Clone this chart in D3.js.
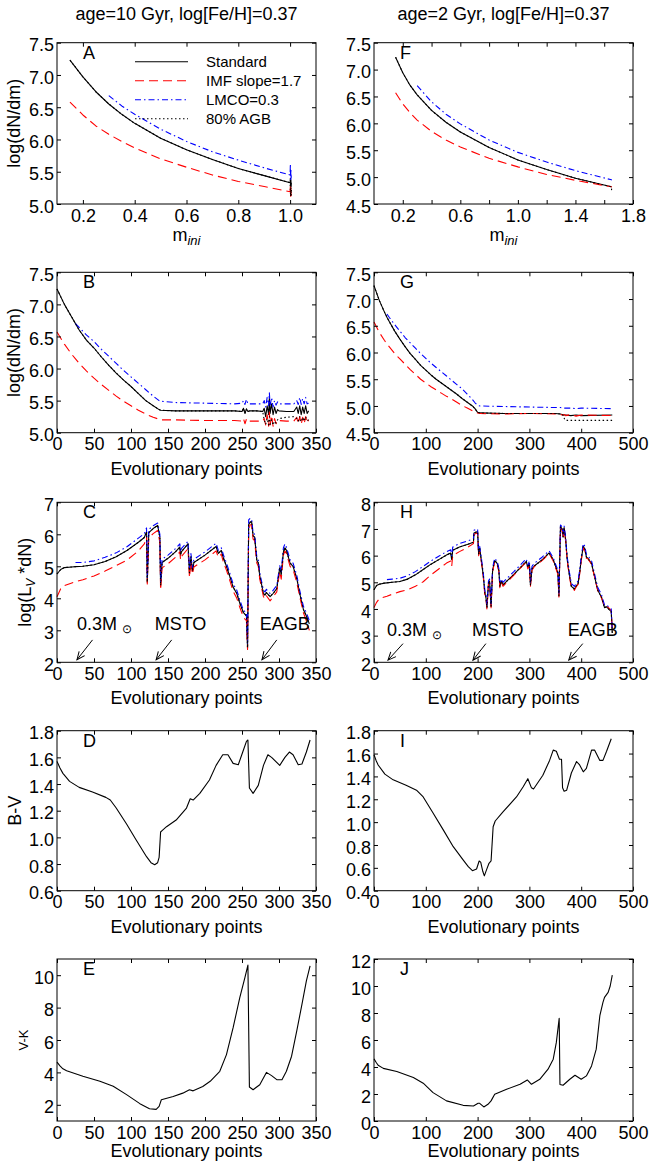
<!DOCTYPE html>
<html>
<head>
<meta charset="utf-8">
<script src="https://cdn.jsdelivr.net/npm/d3@7"></script>
<style>
  body { margin: 0; background: #fff; }
</style>
</head>
<body>
<div class="chart"></div>
<script>
var FONT = '"Liberation Sans", Arial, Helvetica, sans-serif';

// ---------- panel A / F : log(dN/dm) vs initial mass ----------
var aM    = [0.15, 0.2, 0.25, 0.3, 0.35, 0.4, 0.5, 0.6, 0.7, 0.8, 0.9, 1.0, 1.001, 1.002, 1.003, 1.004, 1.005];
var aStd  = [7.23, 6.97, 6.74, 6.55, 6.39, 6.25, 6.02, 5.84, 5.69, 5.55, 5.44, 5.33, 5.4, 5.26, 5.38, 5.27, 5.33];
var aImf  = [6.58, 6.38, 6.21, 6.08, 5.97, 5.87, 5.7, 5.57, 5.45, 5.35, 5.27, 5.19, 5.28, 5.12, 5.25, 5.13, 5.2];
var aLmco = [null, null, null, 6.68, 6.52, 6.39, 6.16, 5.97, 5.81, 5.68, 5.56, 5.45, 5.62, 5.38, 5.55, 5.4, 5.48];
var aAgb  = [7.23, 6.97, 6.74, 6.55, 6.39, 6.25, 6.02, 5.84, 5.69, 5.55, 5.44, 5.33, 5.2, 5.12, 5.25, 5.13, 5.22];

var fM    = [0.15, 0.2, 0.25, 0.3, 0.4, 0.5, 0.6, 0.8, 1.0, 1.2, 1.4, 1.65, 1.652];
var fStd  = [7.23, 6.94, 6.71, 6.53, 6.24, 6.02, 5.84, 5.55, 5.32, 5.14, 4.98, 4.82, 4.82];
var fImf  = [6.57, 6.36, 6.2, 6.06, 5.85, 5.69, 5.56, 5.35, 5.19, 5.05, 4.94, 4.82, 4.81];
var fLmco = [null, null, null, 6.7, 6.4, 6.17, 5.99, 5.69, 5.46, 5.28, 5.12, 4.95, 4.94];
var fAgb  = [7.23, 6.94, 6.71, 6.53, 6.24, 6.02, 5.84, 5.55, 5.32, 5.14, 4.98, 4.82, 4.72];

// ---------- panel B / G : log(dN/dm) vs evolutionary point ----------
var bX    = [0,10,20,25,30,40,50,60,70,80,90,100,110,120,130,138,140,160,200,240,250,252,254,256,258,260,270,278,280,282,284,286,287,288,290,292,294,296,298,300,310,320,324,326,328,330,332,334,336,338,340];
var bStd  = [7.24,7.0,6.8,6.7,6.6,6.44,6.32,6.18,6.05,5.93,5.82,5.72,5.61,5.5,5.42,5.36,5.35,5.34,5.34,5.34,5.33,5.38,5.3,5.37,5.33,5.34,5.34,5.33,5.38,5.25,5.42,5.28,5.55,5.3,5.45,5.28,5.4,5.3,5.36,5.34,5.33,5.33,5.4,5.3,5.42,5.28,5.4,5.3,5.42,5.3,5.34];
var bImf  = [6.57,6.38,6.22,6.15,6.08,5.96,5.85,5.75,5.66,5.57,5.49,5.42,5.35,5.29,5.24,5.21,5.2,5.2,5.19,5.19,5.18,5.22,5.14,5.21,5.17,5.18,5.18,5.18,5.22,5.12,5.28,5.1,5.32,5.12,5.27,5.1,5.22,5.14,5.2,5.19,5.18,5.18,5.24,5.14,5.25,5.13,5.24,5.14,5.25,5.15,5.2];
var bLmco = [null,null,null,6.7,6.64,6.52,6.42,6.3,6.19,6.08,5.97,5.87,5.77,5.67,5.57,5.5,5.49,5.47,5.46,5.45,5.46,5.5,5.44,5.52,5.45,5.45,5.45,5.45,5.5,5.4,5.55,5.42,5.62,5.42,5.55,5.4,5.5,5.43,5.48,5.45,5.45,5.45,5.5,5.44,5.55,5.44,5.53,5.45,5.55,5.45,5.46];
var bAgb  = [7.24,7.0,6.8,6.7,6.6,6.44,6.32,6.18,6.05,5.93,5.82,5.72,5.61,5.5,5.42,5.36,5.35,5.34,5.34,5.34,5.33,5.38,5.3,5.37,5.33,5.34,5.34,5.33,5.2,5.13,5.22,5.12,5.25,5.13,5.2,5.12,5.18,5.15,5.2,5.22,5.24,5.25,5.22,5.18,5.25,5.17,5.24,5.18,5.25,5.19,5.2];

var gX    = [0,10,20,25,30,40,50,60,70,80,90,100,110,120,130,140,150,160,170,180,190,195,200,205,250,300,350,360,365,368,370,380,390,400,460];
var gStd  = [7.25,6.98,6.76,6.66,6.57,6.4,6.25,6.11,5.98,5.87,5.76,5.67,5.58,5.5,5.43,5.36,5.29,5.22,5.14,5.07,5.0,4.95,4.88,4.87,4.86,4.86,4.86,4.85,4.83,4.83,4.83,4.82,4.83,4.82,4.83];
var gImf  = [6.57,6.38,6.23,6.16,6.1,5.98,5.88,5.78,5.68,5.59,5.5,5.43,5.36,5.3,5.24,5.18,5.13,5.07,5.01,4.96,4.91,4.89,4.87,4.86,4.85,4.86,4.85,4.84,4.83,4.84,4.82,4.84,4.81,4.83,4.82];
var gLmco = [null,null,null,6.72,6.65,6.52,6.4,6.28,6.18,6.08,5.98,5.89,5.8,5.72,5.64,5.56,5.48,5.4,5.32,5.22,5.12,5.06,5.01,5.0,4.99,4.98,4.97,4.97,4.96,4.96,4.96,4.96,4.95,4.96,4.95];
var gAgb  = [7.25,6.98,6.76,6.66,6.57,6.4,6.25,6.11,5.98,5.87,5.76,5.67,5.58,5.5,5.43,5.36,5.29,5.22,5.14,5.07,5.0,4.95,4.88,4.87,4.86,4.86,4.86,4.85,4.83,4.75,4.73,4.73,4.73,4.73,4.73];

// ---------- panel C / H : log(L_V*dN) ----------
var cX    = [0,5,10,20,25,35,50,65,80,95,110,118,121,122,124,130,136,139,140,142,150,160,166,167,168,177,179,181,183,185,200,215,218,222,225,229,234,238,243,247,252,256,257.5,259,261,263,265,267,270,272,274,279,281,283,288,292,297,301,303,306,308,310,315,319,324,328,333,337,341];
var cStd  = [4.76,4.9,4.96,4.98,4.99,5.0,5.05,5.15,5.3,5.5,5.75,5.9,6.08,4.5,6.05,6.18,6.28,5.9,4.4,5.12,5.25,5.45,5.6,5.35,5.45,5.7,4.8,5.3,4.85,5.12,5.35,5.62,5.4,5.5,5.25,5.0,4.65,4.35,4.15,3.85,3.55,3.45,2.45,6.3,6.38,6.4,5.95,5.92,5.2,5.1,4.7,4.15,4.1,4.18,4.05,4.15,4.3,4.95,4.75,5.45,5.58,5.5,5.1,5.0,4.62,4.15,3.65,3.45,3.2];
var cImf  = [4.05,4.3,4.4,4.48,4.52,4.58,4.7,4.85,5.02,5.2,5.48,5.7,5.92,4.45,5.9,6.02,6.12,5.75,4.25,4.95,5.08,5.28,5.45,5.2,5.3,5.55,4.65,5.15,4.75,4.98,5.2,5.48,5.28,5.38,5.12,4.88,4.52,4.22,4.0,3.72,3.4,3.3,2.4,6.1,6.3,6.3,5.85,5.8,5.1,5.0,4.6,4.05,3.98,4.08,3.92,4.05,4.2,4.85,4.6,5.35,5.48,5.4,5.0,4.9,4.5,4.05,3.55,3.3,3.0];
var cLmco = [null,null,null,null,5.12,5.12,5.17,5.28,5.42,5.62,5.88,6.02,6.2,4.6,6.15,6.27,6.35,6.0,4.5,5.22,5.35,5.55,5.7,5.45,5.55,5.78,4.9,5.4,4.95,5.22,5.45,5.72,5.5,5.58,5.35,5.1,4.75,4.45,4.25,3.95,3.62,3.55,2.6,6.45,6.5,6.48,6.05,6.0,5.3,5.2,4.8,4.25,4.2,4.28,4.15,4.25,4.4,5.02,4.85,5.58,5.7,5.6,5.2,5.1,4.72,4.25,3.75,3.55,3.3];

var hX    = [0,5,10,20,25,35,50,65,80,95,110,125,140,148,150,152,165,180,192,193,200,202,204,207,211,214,216,218,221,223,226,229,233,238,241,243,246,249,270,290,294,297,300,302,305,310,325,338,346,355,357,360,363,365,367,370,373,377,381,387,391,394,397,400,404,407,410,413,420,426,432,439,445,449,458,460];
var hStd  = [4.72,4.88,4.93,4.97,4.98,5.0,5.03,5.12,5.28,5.48,5.68,5.85,6.02,6.1,5.85,6.2,6.32,6.42,6.5,6.85,6.9,6.05,6.28,5.85,5.25,4.6,4.45,4.05,4.95,5.05,4.1,5.45,5.82,5.7,5.45,4.85,5.05,4.9,5.3,5.7,5.78,5.55,5.7,4.9,5.5,5.62,5.85,6.1,5.85,5.35,4.5,7.1,7.0,6.7,7.05,6.6,5.85,5.3,4.85,4.75,4.88,4.95,5.35,5.85,6.35,6.25,5.95,5.9,5.7,5.2,4.7,4.45,4.05,4.08,3.9,3.1];
var hImf  = [4.05,4.25,4.38,4.45,4.48,4.55,4.65,4.72,4.85,5.02,5.28,5.5,5.72,5.8,5.6,6.0,6.15,6.3,6.45,6.8,6.85,6.0,6.2,5.8,5.2,4.5,4.4,4.0,4.9,5.0,4.05,5.4,5.78,5.65,5.4,4.8,5.0,4.85,5.27,5.68,5.75,5.5,5.65,4.85,5.45,5.6,5.82,6.08,5.8,5.3,4.45,7.05,6.95,6.65,7.0,6.55,5.8,5.25,4.8,4.7,4.85,4.92,5.3,5.8,6.3,6.2,5.9,5.88,5.68,5.18,4.68,4.42,4.1,4.12,3.95,3.15];
var hLmco = [null,null,null,null,5.1,5.12,5.15,5.25,5.4,5.6,5.8,5.98,6.15,6.22,6.0,6.32,6.45,6.55,6.62,6.95,7.0,6.15,6.35,5.95,5.35,4.7,4.55,4.15,5.05,5.12,4.2,5.55,5.9,5.78,5.52,4.95,5.12,5.0,5.4,5.8,5.88,5.62,5.8,5.0,5.6,5.72,5.95,6.18,5.92,5.45,4.6,7.15,7.08,6.8,7.12,6.7,5.95,5.4,4.95,4.85,4.98,5.05,5.45,5.95,6.45,6.35,6.05,6.0,5.8,5.3,4.8,4.55,4.15,4.15,4.0,3.2];

// ---------- panel D / I : B-V ----------
var dX   = [0,4,8,17,30,48,66,72,80,94,107,121,127,132,136,138,140,142,148,161,175,180,184,193,206,215,224,231,238,245,251,256,258,260,265,272,279,285,290,301,308,314,319,326,331,337,342];
var dBV  = [1.57,1.52,1.48,1.42,1.375,1.34,1.3,1.28,1.22,1.1,0.98,0.855,0.81,0.795,0.81,0.85,1.04,1.05,1.08,1.13,1.22,1.29,1.28,1.33,1.43,1.54,1.62,1.62,1.555,1.545,1.64,1.72,1.73,1.37,1.33,1.39,1.54,1.62,1.6,1.54,1.6,1.64,1.62,1.545,1.55,1.64,1.73];
var iX   = [0,4,8,21,37,63,82,95,114,134,153,172,182,190,198,203,206,210,213,217,222,226,230,234,249,275,288,297,304,308,326,339,346,352,358,362,364,367,372,381,391,397,404,410,420,426,436,442,449,458];
var iBV  = [1.59,1.54,1.5,1.42,1.37,1.32,1.28,1.22,1.08,0.93,0.785,0.67,0.61,0.575,0.59,0.66,0.65,0.57,0.53,0.58,0.64,0.66,0.96,1.01,1.09,1.22,1.31,1.38,1.3,1.29,1.41,1.54,1.63,1.62,1.55,1.55,1.3,1.27,1.28,1.43,1.53,1.5,1.44,1.47,1.63,1.63,1.54,1.54,1.62,1.73];

// ---------- panel E / J : V-K ----------
var eX   = [0,4,8,13,35,58,76,94,112,125,134,138,141,157,170,179,184,197,207,220,229,238,247,254,258,260,265,274,283,290,297,304,310,317,324,331,337,342];
var eVK  = [4.63,4.4,4.22,4.1,3.76,3.45,3.14,2.63,2.07,1.76,1.72,1.9,2.31,2.51,2.72,2.93,2.86,3.13,3.45,4.07,5.1,6.76,8.62,9.86,10.62,3.1,2.93,3.24,4.0,3.8,3.55,3.55,4.07,5.0,6.56,8.2,9.65,10.58];
var jX   = [0,4,8,18,44,76,95,114,140,172,192,201,204,212,220,226,233,256,282,296,304,320,336,346,352,357.5,359,365,378,388,400,410,420,429,436,442,445,452,456,460];
var jVK  = [4.6,4.35,4.13,3.9,3.66,3.22,2.8,2.1,1.49,1.16,1.11,1.31,1.31,1.04,1.24,1.49,1.98,2.35,2.72,3.04,2.72,3.09,3.84,4.58,5.82,7.6,2.7,2.65,3.09,3.39,3.09,3.34,4.08,5.32,7.8,8.79,9.16,9.53,10.0,10.8];

// legend + annotations
var legendNames = ['Standard', 'IMF slope=1.7', 'LMCO=0.3', '80% AGB'];
var legendKinds = ['std', 'imf', 'lmco', 'agb'];
var noteLabels = ['0.3M', 'MSTO', 'EAGB'];
var cNoteX = [27, 132, 274], cArrowFrom = [48, 155, 297], cArrowTo = [27, 134, 277];
var hNoteX = [25, 189, 374], hArrowFrom = [56, 216, 403], hArrowTo = [27, 191, 376];

var titles = ['age=10 Gyr, log[Fe/H]=0.37', 'age=2 Gyr, log[Fe/H]=0.37'];

//-----------------------------------------------------------
var cols = [[57, 316], [374, 633]];
var rows = [[42.7, 204], [272.3, 432.7], [502.3, 662.3], [730.7, 890.7], [959, 1121]];

var styles = {
  std:  { color: '#000', dash: null },
  imf:  { color: '#ff0000', dash: '9,5' },
  lmco: { color: '#0000ff', dash: '6,3,1.5,3' },
  agb:  { color: '#000', dash: '1.5,2.5' }
};

var f1 = d3.format('.1f');
var fi = d3.format('d');

var panels = [
  { id: 'A', col: 0, row: 0, xd: [0.1, 1.1], yd: [5, 7.5], xt: [0.2, 0.4, 0.6, 0.8, 1.0], xf: f1, yt: [5, 5.5, 6, 6.5, 7, 7.5], yf: f1,
    series: [[aM, aStd, 'std'], [aM, aImf, 'imf'], [aM, aLmco, 'lmco'], [aM, aAgb, 'agb']], xlab: 'mini', ylab: 'dndm', ylx: 20 },
  { id: 'F', col: 1, row: 0, xd: [0, 1.8], yd: [4.5, 7.5], xt: [0.2, 0.4, 0.6, 0.8, 1.0, 1.2, 1.4, 1.6, 1.8],
    xf: function (d) { return [0.2, 0.6, 1.0, 1.4, 1.8].some(function (v) { return Math.abs(v - d) < 1e-6; }) ? f1(d) : ''; },
    yt: [4.5, 5, 5.5, 6, 6.5, 7, 7.5], yf: f1,
    series: [[fM, fStd, 'std'], [fM, fImf, 'imf'], [fM, fLmco, 'lmco'], [fM, fAgb, 'agb']], xlab: 'mini' },
  { id: 'B', col: 0, row: 1, xd: [0, 350], yd: [5, 7.5], xt: d3.range(0, 351, 50), xf: fi, yt: [5, 5.5, 6, 6.5, 7, 7.5], yf: f1,
    series: [[bX, bStd, 'std'], [bX, bImf, 'imf'], [bX, bLmco, 'lmco'], [bX, bAgb, 'agb']], xlab: 'evo', ylab: 'dndm', ylx: 20 },
  { id: 'G', col: 1, row: 1, xd: [0, 500], yd: [4.5, 7.5], xt: d3.range(0, 501, 100), xf: fi, yt: [4.5, 5, 5.5, 6, 6.5, 7, 7.5], yf: f1,
    series: [[gX, gStd, 'std'], [gX, gImf, 'imf'], [gX, gLmco, 'lmco'], [gX, gAgb, 'agb']], xlab: 'evo' },
  { id: 'C', col: 0, row: 2, xd: [0, 350], yd: [2, 7], xt: d3.range(0, 351, 50), xf: fi, yt: d3.range(2, 8), yf: fi,
    series: [[cX, cStd, 'std'], [cX, cImf, 'imf'], [cX, cLmco, 'lmco'], [cX, cStd, 'agb']], xlab: 'evo', ylab: 'lv', ylx: 31,
    notes: [cNoteX, cArrowFrom, cArrowTo] },
  { id: 'H', col: 1, row: 2, xd: [0, 500], yd: [2, 8], xt: d3.range(0, 501, 100), xf: fi, yt: d3.range(2, 9), yf: fi,
    series: [[hX, hStd, 'std'], [hX, hImf, 'imf'], [hX, hLmco, 'lmco'], [hX, hStd, 'agb']], xlab: 'evo',
    notes: [hNoteX, hArrowFrom, hArrowTo] },
  { id: 'D', col: 0, row: 3, xd: [0, 350], yd: [0.6, 1.8], xt: d3.range(0, 351, 50), xf: fi, yt: [0.6, 0.8, 1.0, 1.2, 1.4, 1.6, 1.8], yf: f1,
    series: [[dX, dBV, 'std']], xlab: 'evo', ylab: 'bv', ylx: 21 },
  { id: 'I', col: 1, row: 3, xd: [0, 500], yd: [0.4, 1.8], xt: d3.range(0, 501, 100), xf: fi, yt: [0.4, 0.6, 0.8, 1.0, 1.2, 1.4, 1.6, 1.8], yf: f1,
    series: [[iX, iBV, 'std']], xlab: 'evo' },
  { id: 'E', col: 0, row: 4, xd: [0, 350], yd: [1, 11], xt: d3.range(0, 351, 50), xf: fi, yt: [2, 4, 6, 8, 10], yf: fi,
    series: [[eX, eVK, 'std']], xlab: 'evo', xlabOff: 36, ylab: 'vk', ylx: 28 },
  { id: 'J', col: 1, row: 4, xd: [0, 500], yd: [0, 12], xt: d3.range(0, 501, 100), xf: fi, yt: d3.range(0, 13, 2), yf: fi,
    series: [[jX, jVK, 'std']], xlab: 'evo', xlabOff: 36 }
];

var svg = d3.select('.chart')
  .append('svg')
  .attr('width', 650)
  .attr('height', 1166)
  .style('font-family', FONT);

svg.append('defs').append('marker')
  .attr('id', 'head')
  .attr('viewBox', '-10 -6 12 12')
  .attr('refX', 0).attr('refY', 0)
  .attr('markerWidth', 12).attr('markerHeight', 12)
  .attr('markerUnits', 'userSpaceOnUse')
  .attr('orient', 'auto')
  .append('path')
  .attr('d', 'M-8,-3.5L0,0L-8,3.5')
  .style('fill', 'none').style('stroke', '#000').style('stroke-width', 1);

// column titles
titles.forEach(function (t, i) {
  svg.append('text')
    .attr('x', (cols[i][0] + cols[i][1]) / 2)
    .attr('y', 19.5)
    .attr('text-anchor', 'middle')
    .style('font-size', '18px')
    .text(t);
});

function styleAxis(sel) {
  sel.attr('font-size', 18).attr('font-family', FONT);
  sel.select('.domain').remove();
  sel.selectAll('line').style('stroke', '#000').style('stroke-width', 1);
}

panels.forEach(function (p) {
  var left = cols[p.col][0], right = cols[p.col][1];
  var top = rows[p.row][0], bottom = rows[p.row][1];
  var x = d3.scaleLinear().domain(p.xd).range([left, right]);
  var y = d3.scaleLinear().domain(p.yd).range([bottom, top]);
  var g = svg.append('g');

  // data lines
  p.series.forEach(function (s) {
    var st = styles[s[2]];
    var line = d3.line()
      .defined(function (d) { return d[1] != null; })
      .x(function (d) { return x(d[0]); })
      .y(function (d) { return y(d[1]); });
    g.append('path')
      .datum(d3.zip(s[0], s[1]))
      .attr('d', line)
      .style('fill', 'none')
      .style('stroke', st.color)
      .style('stroke-width', 1.1)
      .style('stroke-dasharray', st.dash)
      .style('stroke-linejoin', 'round');
  });

  // axes, ticks pointing inwards on all four sides
  g.append('g').attr('transform', 'translate(0,' + bottom + ')')
    .call(d3.axisBottom(x).tickValues(p.xt).tickSize(-4).tickPadding(5).tickFormat(p.xf))
    .call(styleAxis);
  g.append('g').attr('transform', 'translate(0,' + top + ')')
    .call(d3.axisTop(x).tickValues(p.xt).tickSize(-4).tickFormat(''))
    .call(styleAxis);
  g.append('g').attr('transform', 'translate(' + left + ',0)')
    .call(d3.axisLeft(y).tickValues(p.yt).tickSize(-4).tickPadding(3).tickFormat(p.yf))
    .call(styleAxis)
    .selectAll('text').attr('dy', '0.45em');
  g.append('g').attr('transform', 'translate(' + right + ',0)')
    .call(d3.axisRight(y).tickValues(p.yt).tickSize(-4).tickFormat(''))
    .call(styleAxis);

  g.append('rect')
    .attr('x', left).attr('y', top)
    .attr('width', right - left).attr('height', bottom - top)
    .style('fill', 'none').style('stroke', '#000').style('stroke-width', 1);

  // panel letter
  g.append('text')
    .attr('x', left + 26).attr('y', top + 16)
    .style('font-size', '18px')
    .text(p.id);

  // x label
  var cx = (left + right) / 2;
  if (p.xlab === 'mini') {
    var mt = g.append('text').attr('x', cx).attr('y', bottom + 37)
      .attr('text-anchor', 'middle').style('font-size', '18px');
    mt.append('tspan').text('m');
    mt.append('tspan').attr('dy', 4).style('font-size', '13px').style('font-style', 'italic').text('ini');
  } else {
    g.append('text').attr('x', cx).attr('y', bottom + (p.xlabOff || 42))
      .attr('text-anchor', 'middle').style('font-size', '18px')
      .text('Evolutionary points');
  }

  // y label
  if (p.ylab) {
    var cy = (top + bottom) / 2;
    var yl = g.append('text')
      .attr('transform', 'translate(' + p.ylx + ',' + cy + ') rotate(-90)')
      .attr('text-anchor', 'middle')
      .style('font-size', p.ylab === 'vk' ? '13px' : '18px');
    if (p.ylab === 'dndm') yl.text('log(dN/dm)');
    if (p.ylab === 'bv') yl.text('B-V');
    if (p.ylab === 'vk') yl.text('V-K');
    if (p.ylab === 'lv') {
      yl.append('tspan').text('log(L');
      yl.append('tspan').attr('dy', 4).style('font-size', '12px').style('font-style', 'italic').text('V');
      yl.append('tspan').attr('dy', -4).text(' *dN)');
    }
  }

  // annotations with arrows
  if (p.notes) {
    noteLabels.forEach(function (lab, i) {
      var t = g.append('text')
        .attr('x', x(p.notes[0][i])).attr('y', y(3.0))
        .style('font-size', '18px');
      t.append('tspan').text(lab);
      if (i === 0) {
        t.append('tspan').attr('dx', 5).attr('dy', 3).style('font-size', '12px').text('\u2299');
      }
      g.append('line')
        .attr('x1', x(p.notes[1][i])).attr('y1', y(2.7))
        .attr('x2', x(p.notes[2][i])).attr('y2', y(2.08))
        .style('stroke', '#000').style('stroke-width', 1)
        .attr('marker-end', 'url(#head)');
    });
  }

  // legend in panel A
  if (p.id === 'A') {
    legendNames.forEach(function (name, i) {
      var ly = 61.7 + i * 19;
      var st = styles[legendKinds[i]];
      g.append('line')
        .attr('x1', 135).attr('x2', 188).attr('y1', ly).attr('y2', ly)
        .style('stroke', st.color).style('stroke-width', 1.1)
        .style('stroke-dasharray', st.dash);
      g.append('text')
        .attr('x', 206).attr('y', ly).attr('dy', '0.35em')
        .style('font-size', '15px')
        .text(name);
    });
  }
});
</script>
</body>
</html>
